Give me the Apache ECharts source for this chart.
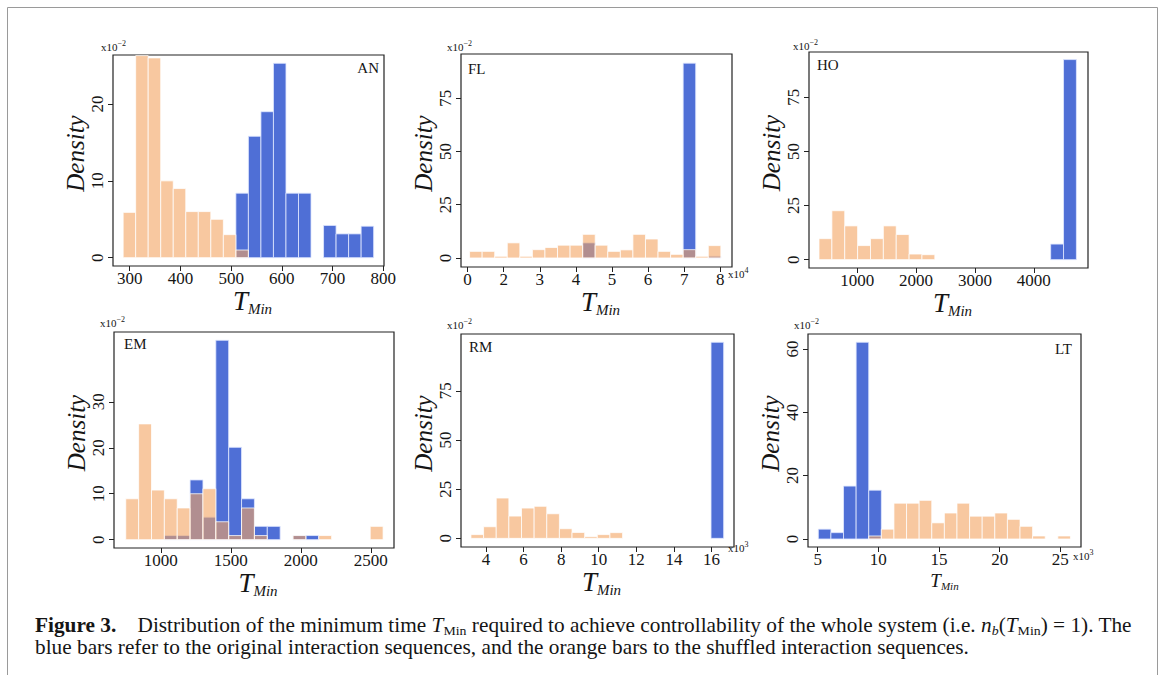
<!DOCTYPE html>
<html>
<head>
<meta charset="utf-8">
<script src="https://cdn.jsdelivr.net/npm/echarts@6/dist/echarts.min.js"></script>
<style>
html,body{margin:0;padding:0;background:#fff;}
#c{width:1165px;height:675px;}
</style>
</head>
<body>
<div id="c"></div>
<script>
// ---------------- DATA (densities in units of 10^-2) ----------------
// AN
const AN_binStart = 287, AN_binWidth = 24.7;
const AN_orange = [5.9, 26.3, 26.0, 10.0, 9.0, 6.0, 6.0, 5.0, 3.0, 1.0, 0, 0, 0, 0, 0, 0, 0, 0, 0, 0];
const AN_blue   = [0, 0, 0, 0, 0, 0, 0, 0, 0, 8.4, 15.8, 19.0, 25.3, 8.4, 8.4, 0, 4.2, 3.1, 3.1, 4.1];
const AN_xTicks = [300, 400, 500, 600, 700, 800];
const AN_yTicks = [0, 10, 20];
// FL (x in 10^4)
const FL_binStart = 1.055, FL_binWidth = 0.348;
const FL_orange = [3.1, 3.1, 0.8, 7.1, 0.8, 3.9, 4.9, 6.0, 6.0, 11.1, 6.0, 3.1, 3.8, 11.1, 8.9, 3.1, 1.7, 3.9, 0.8, 5.8];
const FL_blue   = [0, 0, 0, 0, 0, 0, 0, 0, 0, 7.1, 0, 0, 0, 0, 0, 0, 0, 91.5, 0, 0.8];
const FL_xTicks = [1, 2, 3, 4, 5, 6, 7, 8];
const FL_xTickLabels = ['0', '2', '3', '4', '5', '6', '7', '8'];
const FL_yTicks = [0, 25, 50, 75];
// HO
const HO_binStart = 351, HO_binWidth = 218.6;
const HO_orange = [9.7, 22.6, 15.6, 6.5, 9.7, 15.6, 11.6, 2.6, 2.3, 0, 0, 0, 0, 0, 0, 0, 0, 0, 0, 0];
const HO_blue   = [0, 0, 0, 0, 0, 0, 0, 0, 0, 0, 0, 0, 0, 0, 0, 0, 0, 0, 7.2, 92.4];
const HO_xTicks = [1000, 2000, 3000, 4000];
const HO_yTicks = [0, 25, 50, 75];
// EM
const EM_binStart = 750, EM_binWidth = 91.9;
const EM_orange = [8.9, 25.2, 10.8, 8.9, 6.9, 10.0, 11.1, 3.9, 0.9, 6.9, 0.9, 0, 0, 0.9, 0, 0.9, 0, 0, 0, 2.9];
const EM_blue   = [0, 0, 0, 0.9, 0.9, 13.0, 4.9, 43.4, 20.1, 8.9, 2.9, 2.9, 0, 0.9, 0.9, 0, 0, 0, 0, 0];
const EM_xTicks = [1000, 1500, 2000, 2500];
const EM_yTicks = [0, 10, 20, 30];
// RM (x in 10^3)
const RM_binStart = 3.2, RM_binWidth = 0.6725;
const RM_orange = [1.9, 5.9, 20.5, 11.3, 15.4, 16.3, 12.5, 4.9, 3.0, 0.85, 1.9, 2.9, 0, 0, 0, 0, 0, 0, 0, 0];
const RM_blue   = [0, 0, 0, 0, 0, 0, 0, 0, 0, 0, 0, 0, 0, 0, 0, 0, 0, 0, 0, 99.7];
const RM_xTicks = [4, 6, 8, 10, 12, 14, 16];
const RM_yTicks = [0, 25, 50, 75];
// LT (x in 10^3)
const LT_binStart = 5.05, LT_binWidth = 1.039;
const LT_orange = [0, 0, 0, 0, 0.95, 3.1, 11.3, 11.3, 12.2, 5.1, 8.2, 11.3, 7.2, 7.2, 8.2, 6.2, 4.0, 0.95, 0, 0.95];
const LT_blue   = [3.1, 2.0, 16.7, 62.1, 15.4, 0, 0, 0, 0, 0, 0, 0, 0, 0, 0, 0, 0, 0, 0, 0];
const LT_xTicks = [5, 10, 15, 20, 25];
const LT_yTicks = [0, 20, 40, 60];

// ---------------- LAYOUT / STYLE ----------------
const FONT = "'Liberation Serif', 'DejaVu Serif', serif";
const INK = '#151515';
const BLUE_STYLE = {fill: '#4f6fd6', stroke: 'rgba(225,232,255,0.8)', lineWidth: 1};
const ORANGE_STYLE = {fill: 'rgba(244,164,96,0.6)', stroke: 'rgba(255,255,255,0.75)', lineWidth: 1};

const panels = [
  {id:'AN', grid:{left:113, top:55, width:271, height:211}, x:[267, 801.4], y:[-1.08, 26.38],
   xTicks:AN_xTicks, yTicks:AN_yTicks, start:AN_binStart, bw:AN_binWidth, orange:AN_orange, blue:AN_blue,
   tSize:27, sSize:15, nameGapX:15, tShift:8},
  {id:'FL', grid:{left:461, top:54, width:271, height:213}, x:[0.817, 8.324], y:[-4.24, 95.8],
   xTicks:FL_xTicks, xLabels:FL_xTickLabels, yTicks:FL_yTicks, start:FL_binStart, bw:FL_binWidth, orange:FL_orange, blue:FL_blue,
   tSize:27, sSize:15, nameGapX:15, tShift:8},
  {id:'HO', grid:{left:809, top:52, width:279, height:216}, x:[181, 4920], y:[-3.85, 95.9],
   xTicks:HO_xTicks, yTicks:HO_yTicks, start:HO_binStart, bw:HO_binWidth, orange:HO_orange, blue:HO_blue,
   tSize:27, sSize:15, nameGapX:17, tShift:8},
  {id:'EM', grid:{left:114, top:332, width:280, height:216}, x:[666, 2666], y:[-1.81, 45.2],
   xTicks:EM_xTicks, yTicks:EM_yTicks, start:EM_binStart, bw:EM_binWidth, orange:EM_orange, blue:EM_blue,
   tSize:27, sSize:15, nameGapX:15, tShift:8},
  {id:'RM', grid:{left:461, top:334, width:273, height:213}, x:[2.67, 17.2], y:[-4.4, 103.9],
   xTicks:RM_xTicks, yTicks:RM_yTicks, start:RM_binStart, bw:RM_binWidth, orange:RM_orange, blue:RM_blue,
   tSize:27, sSize:15, nameGapX:14, tShift:8},
  {id:'LT', grid:{left:808, top:334, width:273, height:213}, x:[4.2, 26.7], y:[-2.53, 64.7],
   xTicks:LT_xTicks, yTicks:LT_yTicks, start:LT_binStart, bw:LT_binWidth, orange:LT_orange, blue:LT_blue,
   tSize:19, sSize:11, nameGapX:23, tShift:0}
];

function histData(start, width, vals) {
  const out = [];
  vals.forEach(function (v, i) {
    if (v > 0) out.push([start + i * width, start + (i + 1) * width, v]);
  });
  return out;
}

function makeRender(style) {
  return function (params, api) {
    const p0 = api.coord([api.value(0), api.value(2)]);
    const p1 = api.coord([api.value(1), 0]);
    const cs = params.coordSys;
    const shape = echarts.graphic.clipRectByRect(
      {x: p0[0], y: p0[1], width: p1[0] - p0[0], height: p1[1] - p0[1]},
      {x: cs.x, y: cs.y, width: cs.width, height: cs.height});
    return shape && {type: 'rect', shape: shape, style: style};
  };
}

const grids = [], xAxes = [], yAxes = [], series = [];
panels.forEach(function (p, i) {
  grids.push(Object.assign({show: true, borderColor: '#222', borderWidth: 1.2,
    backgroundColor: 'transparent', containLabel: false, outerBoundsMode: 'none'}, p.grid));
  xAxes.push({
    gridIndex: i, type: 'value', min: p.x[0], max: p.x[1],
    axisLine: {show: false, onZero: false},
    axisTick: {show: true, inside: false, length: 5, customValues: p.xTicks, lineStyle: {color: '#222', width: 1}},
    axisLabel: {customValues: p.xTicks, margin: 4, fontFamily: FONT, fontSize: 17, color: INK,
      formatter: p.xLabels ? (function (labels, ticks) {
        return function (v) { const k = ticks.indexOf(v); return k >= 0 ? labels[k] : ''; };
      })(p.xLabels, p.xTicks) : function (v) { return String(v); }},
    splitLine: {show: false},
    name: '{t|T}{s|Min}', nameLocation: 'middle', nameGap: p.nameGapX,
    nameTextStyle: {padding: [0, 0, 0, p.tShift],
      rich: {
        t: {fontFamily: FONT, fontStyle: 'italic', fontSize: p.tSize, lineHeight: Math.round(p.tSize * 1.1), color: INK},
        s: {fontFamily: FONT, fontStyle: 'italic', fontSize: p.sSize, lineHeight: Math.round(p.sSize * 1.2), verticalAlign: 'bottom', color: INK}
      }}
  });
  yAxes.push({
    gridIndex: i, type: 'value', min: p.y[0], max: p.y[1],
    axisLine: {show: false, onZero: false},
    axisTick: {show: true, inside: false, length: 5, customValues: p.yTicks, lineStyle: {color: '#222', width: 1}},
    axisLabel: {customValues: p.yTicks, rotate: 90, margin: 7, fontFamily: FONT, fontSize: 17, color: INK,
      formatter: function (v) { return String(v); }},
    splitLine: {show: false},
    name: 'Density', nameLocation: 'middle', nameRotate: 90, nameGap: 23,
    nameTextStyle: {fontFamily: FONT, fontStyle: 'italic', fontSize: 25, color: INK, padding: [0, 0, 0, 14]}
  });
  series.push({type: 'custom', name: p.id + ' original', xAxisIndex: i, yAxisIndex: i,
    renderItem: makeRender(BLUE_STYLE), encode: {x: [0, 1], y: 2},
    data: histData(p.start, p.bw, p.blue), silent: true, z: 2});
  series.push({type: 'custom', name: p.id + ' shuffled', xAxisIndex: i, yAxisIndex: i,
    renderItem: makeRender(ORANGE_STYLE), encode: {x: [0, 1], y: 2},
    data: histData(p.start, p.bw, p.orange), silent: true, z: 3});
});

function txt(x, y, text, extra, scaleX) {
  const el = {type: 'text', x: x, y: y, silent: true, z: 10,
    style: Object.assign({text: text, fontFamily: FONT, fill: INK, fontSize: 15}, extra)};
  if (scaleX) el.scaleX = scaleX;
  return el;
}
const expRich = {
  a: {fontFamily: FONT, fontSize: 11, lineHeight: 16, fill: INK},
  p: {fontFamily: FONT, fontSize: 8, lineHeight: 7, verticalAlign: 'top', fill: INK}
};
function expText(x, y, e) {
  return txt(x, y, '{a|x10}{p|' + e + '}', {align: 'left', verticalAlign: 'middle', rich: expRich});
}

const CAP = 20, CAPX = 1.065;
const capRich = {
  b: {fontFamily: FONT, fontWeight: 'bold', fontSize: CAP, lineHeight: 24, fill: INK, padding: [0, 20, 0, 0]},
  i: {fontFamily: FONT, fontStyle: 'italic', fontSize: CAP, lineHeight: 24, fill: INK},
  s: {fontFamily: FONT, fontSize: 13, lineHeight: 14, verticalAlign: 'bottom', fill: INK},
  si: {fontFamily: FONT, fontStyle: 'italic', fontSize: 13, lineHeight: 14, verticalAlign: 'bottom', fill: INK}
};

const graphics = [
  {type: 'rect', silent: true, shape: {x: 7.5, y: 7.5, width: 1150, height: 700},
   style: {fill: 'none', stroke: '#9a9a9a', lineWidth: 1}},
  // panel tags
  txt(379, 68, 'AN', {align: 'right', verticalAlign: 'middle'}),
  txt(468, 69, 'FL', {align: 'left', verticalAlign: 'middle'}),
  txt(817, 65, 'HO', {align: 'left', verticalAlign: 'middle'}),
  txt(124, 344, 'EM', {align: 'left', verticalAlign: 'middle'}),
  txt(469, 347, 'RM', {align: 'left', verticalAlign: 'middle'}),
  txt(1072, 349, 'LT', {align: 'right', verticalAlign: 'middle'}),
  // multipliers
  expText(101, 47, '−2'), expText(447, 47, '−2'), expText(793, 46, '−2'),
  expText(100, 323, '−2'), expText(447, 325, '−2'), expText(794, 325, '−2'),
  expText(728, 274, '4'), expText(728, 548, '3'), expText(1073, 556, '3'),
  // caption
  txt(35, 625, '{b|Figure 3.}Distribution of the minimum time {i|T}{s|Min} required to achieve controllability of the whole system (i.e. {i|n}{si|b}({i|T}{s|Min}) = 1). The',
      {fontSize: CAP, lineHeight: 24, align: 'left', verticalAlign: 'middle', rich: capRich}, CAPX),
  txt(35, 647, 'blue bars refer to the original interaction sequences, and the orange bars to the shuffled interaction sequences.',
      {fontSize: CAP, lineHeight: 24, align: 'left', verticalAlign: 'middle'}, CAPX)
];

const chart = echarts.init(document.getElementById('c'), null, {renderer: 'svg', width: 1165, height: 675});
chart.setOption({
  animation: false,
  backgroundColor: '#ffffff',
  grid: grids, xAxis: xAxes, yAxis: yAxes, series: series,
  graphic: graphics
});
</script>
</body>
</html>
